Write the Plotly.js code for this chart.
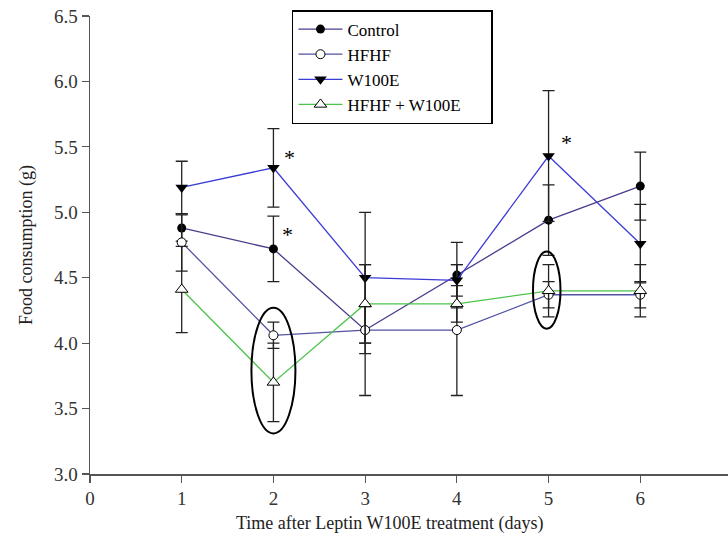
<!DOCTYPE html>
<html>
<head>
<meta charset="utf-8">
<script src="https://cdn.plot.ly/plotly-3.0.1.min.js"></script>
<style>
html, body { margin: 0; padding: 0; overflow: hidden; background: #fff; }
#chart { width: 740px; height: 543px; }
</style>
</head>
<body>
<div id="chart"></div>
<script>
// ---- data ----
const days = [1, 2, 3, 4, 5, 6];
const control    = [4.88, 4.72, 4.10, 4.52, 4.94, 5.20];
const controlErr = [0.10, 0.25, 0.18, 0.25, 0.27, 0.26];
const hfhf       = [4.77, 4.06, 4.10, 4.10, 4.37, 4.37];
const hfhfErr    = [0.22, 0.10, 0.50, 0.50, 0.10, 0.10];
const w100e      = [5.19, 5.34, 4.50, 4.48, 5.43, 4.76];
const w100eErr   = [0.20, 0.30, 0.50, 0.12, 0.50, 0.30];
const combo      = [4.41, 3.70, 4.30, 4.30, 4.40, 4.40];
const comboErr   = [0.33, 0.30, 0.30, 0.14, 0.20, 0.20];
const seriesNames = ["Control", "HFHF", "W100E", "HFHF + W100E"];
const xTicks = [0, 1, 2, 3, 4, 5, 6, 7];
const yTicks = [3.0, 3.5, 4.0, 4.5, 5.0, 5.5, 6.0, 6.5];
const xTitle = "Time after Leptin W100E treatment (days)";
const yTitle = "Food consumption (g)";
// significance marks
const starX = [2.18, 2.15, 5.2];
const starY = [5.42, 4.83, 5.53];
// highlighted groups (ellipses)
const ellipseX = [[1.76, 2.24], [4.83, 5.13]];
const ellipseY = [[3.31, 4.27], [4.11, 4.70]];

const serif = "'Liberation Serif', 'Times New Roman', serif";
const pad = "\u00a0".repeat(6); // widen legend box like the reference

function errBar(arr) {
  return { type: "data", array: arr, visible: true, color: "#222", thickness: 1.3, width: 6 };
}

const traces = [
  { x: days, y: control, name: seriesNames[0], mode: "lines+markers",
    line: { color: "#4a3c8c", width: 1.3 },
    marker: { symbol: "circle", size: 9, color: "#000" },
    error_y: errBar(controlErr) },
  { x: days, y: hfhf, name: seriesNames[1], mode: "lines+markers",
    line: { color: "#5252a6", width: 1.3 },
    marker: { symbol: "circle", size: 9, color: "#fff", line: { color: "#000", width: 1 } },
    error_y: errBar(hfhfErr) },
  { x: days, y: w100e, name: seriesNames[2], mode: "lines+markers",
    line: { color: "#3b3bd6", width: 1.3 },
    marker: { symbol: "triangle-down", size: 11, color: "#000" },
    error_y: errBar(w100eErr) },
  { x: days, y: combo, name: seriesNames[3] + pad, mode: "lines+markers",
    line: { color: "#4cc44c", width: 1.3 },
    marker: { symbol: "triangle-up", size: 11, color: "#fff", line: { color: "#000", width: 1 } },
    error_y: errBar(comboErr) }
];

const annotations = starX.map((x, i) => ({
  x: x, y: starY[i], xref: "x", yref: "y", text: "*", showarrow: false,
  font: { family: serif, size: 22, color: "#000" }
}));
annotations.push({
  xref: "paper", yref: "paper", x: 0.466, y: -0.107, xanchor: "center", yanchor: "middle",
  text: xTitle, showarrow: false, font: { family: serif, size: 18, color: "#222" }
});

const shapes = ellipseX.map((ex, i) => ({
  type: "circle", xref: "x", yref: "y",
  x0: ex[0], x1: ex[1], y0: ellipseY[i][0], y1: ellipseY[i][1],
  line: { color: "#000", width: 2 }
}));

const axisCommon = {
  showline: true, linecolor: "#555", linewidth: 1.5,
  ticks: "outside", ticklen: 7, tickcolor: "#555", tickwidth: 1.2,
  showgrid: false, zeroline: false,
  tickfont: { family: serif, size: 19, color: "#333" }
};

const layout = {
  width: 740, height: 543,
  margin: { l: 90, r: 8, t: 16, b: 69 },
  paper_bgcolor: "#fff", plot_bgcolor: "#fff",
  font: { family: serif },
  showlegend: true,
  legend: {
    x: 0.3146, y: 1.013, xanchor: "left", yanchor: "top",
    bgcolor: "#fff", bordercolor: "#000", borderwidth: 1.5,
    itemwidth: 44,
    font: { family: serif, size: 17, color: "#000" }
  },
  xaxis: Object.assign({}, axisCommon, {
    range: [0, 7], tickvals: xTicks, ticktext: xTicks.map(String)
  }),
  yaxis: Object.assign({}, axisCommon, {
    range: [3, 6.5], tickvals: yTicks, ticktext: yTicks.map(v => v.toFixed(1)),
    title: { text: yTitle, font: { family: serif, size: 18, color: "#222" }, standoff: 16 }
  }),
  annotations: annotations,
  shapes: shapes
};

Plotly.newPlot("chart", traces, layout, { displayModeBar: false, staticPlot: true });
</script>
</body>
</html>
